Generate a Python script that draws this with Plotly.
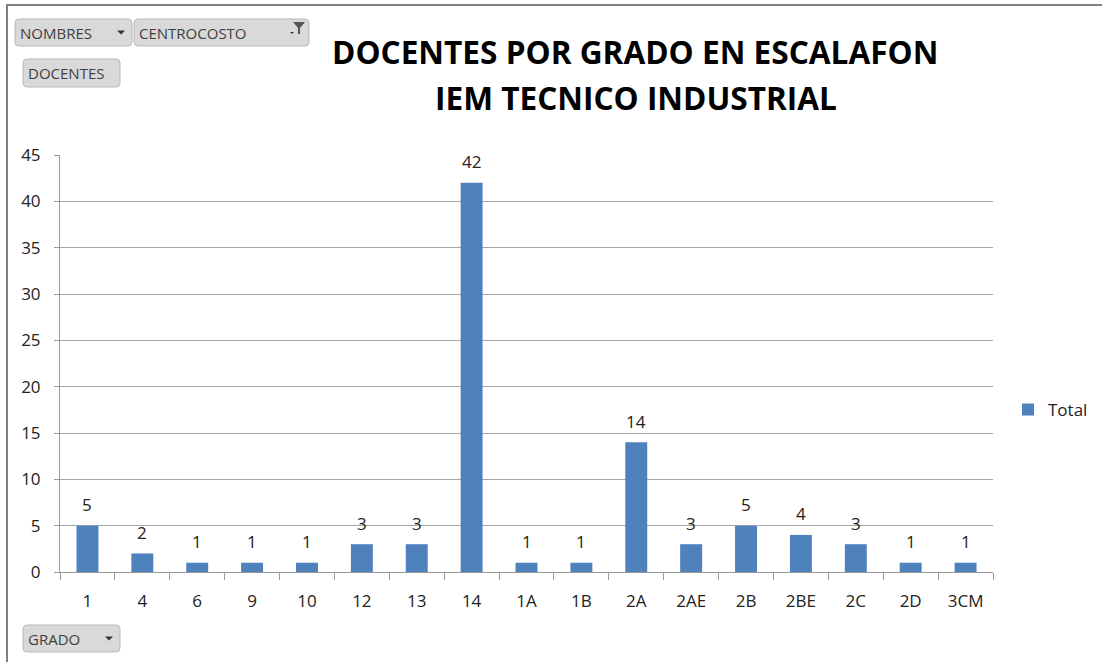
import plotly.graph_objects as go

categories = ["1", "4", "6", "9", "10", "12", "13", "14", "1A", "1B", "2A", "2AE", "2B", "2BE", "2C", "2D", "3CM"]
totals = [5, 2, 1, 1, 1, 3, 3, 42, 1, 1, 14, 3, 5, 4, 3, 1, 1]
y_ticks = [0, 5, 10, 15, 20, 25, 30, 35, 40, 45]

W, H = 1102, 662
L, R, T, B = 60, 993, 155, 572

def px(x):
    return (x - L) / (R - L)

def py(y):
    return (B - y) / (B - T)

FONT = "Open Sans"
TXT = "#222222"

fig = go.Figure()
fig.add_trace(go.Bar(
    x=categories, y=totals, name="Total",
    marker=dict(color="#4F81BD", line=dict(width=0)),
    width=0.4,
    cliponaxis=False,
))

shapes = []
annotations = []

# data labels placed through the axes (category index positions)
for i, v in enumerate(totals):
    annotations.append(dict(x=i, y=v, xref="x", yref="y", text=str(v), showarrow=False,
                            yanchor="middle", yshift=21,
                            font=dict(size=17, color=TXT, family=FONT)))

# title lines
annotations.append(dict(text="<b>DOCENTES POR GRADO EN ESCALAFON</b>", xref="paper", yref="paper",
                        x=px(635), y=py(52), xanchor="center", yanchor="middle", showarrow=False,
                        font=dict(size=31.6, color="black", family=FONT)))
annotations.append(dict(text="<b>IEM TECNICO INDUSTRIAL</b>", xref="paper", yref="paper",
                        x=px(636), y=py(97), xanchor="center", yanchor="middle", showarrow=False,
                        font=dict(size=31.6, color="black", family=FONT)))

# outer border (top and left edges only visible)
shapes.append(dict(type="line", xref="paper", yref="paper",
                   x0=px(7), x1=px(1102), y0=py(5), y1=py(5),
                   line=dict(color="#808080", width=2), layer="below"))
shapes.append(dict(type="line", xref="paper", yref="paper",
                   x0=px(7), x1=px(7), y0=py(4), y1=py(662),
                   line=dict(color="#808080", width=2), layer="below"))

def button(x0, y0, x1, y1, label, arrow=None):
    r = 4
    path = (f"M {px(x0+r)},{py(y0)} L {px(x1-r)},{py(y0)} Q {px(x1)},{py(y0)} {px(x1)},{py(y0+r)} "
            f"L {px(x1)},{py(y1-r)} Q {px(x1)},{py(y1)} {px(x1-r)},{py(y1)} "
            f"L {px(x0+r)},{py(y1)} Q {px(x0)},{py(y1)} {px(x0)},{py(y1-r)} "
            f"L {px(x0)},{py(y0+r)} Q {px(x0)},{py(y0)} {px(x0+r)},{py(y0)} Z")
    shapes.append(dict(type="path", xref="paper", yref="paper", path=path,
                       fillcolor="#D9D9D9", line=dict(color="#B8B8B8", width=1)))
    annotations.append(dict(text=label, xref="paper", yref="paper",
                            x=px(x0 + 3), y=py((y0 + y1) / 2), xanchor="left", yanchor="middle",
                            showarrow=False, font=dict(size=15, color="#404040", family=FONT)))
    if arrow == "down":
        ax = x1 - 11
        ay = (y0 + y1) / 2
        shapes.append(dict(type="path", xref="paper", yref="paper",
                           path=f"M {px(ax-4)},{py(ay-2)} L {px(ax+4)},{py(ay-2)} L {px(ax)},{py(ay+2)} Z",
                           fillcolor="#333333", line=dict(width=0)))
    elif arrow == "filter":
        ax = x1 - 10
        shapes.append(dict(type="path", xref="paper", yref="paper",
                           path=(f"M {px(ax-6)},{py(y0+3)} L {px(ax+6)},{py(y0+3)} L {px(ax+1)},{py(y0+9)} "
                                 f"L {px(ax+1)},{py(y0+15)} L {px(ax-1)},{py(y0+15)} L {px(ax-1)},{py(y0+9)} Z"),
                           fillcolor="#555555", line=dict(width=0)))
        shapes.append(dict(type="path", xref="paper", yref="paper",
                           path=f"M {px(ax-9)},{py(y0+13)} L {px(ax-5)},{py(y0+13)} L {px(ax-7)},{py(y0+15)} Z",
                           fillcolor="#333333", line=dict(width=0)))

button(15, 19, 132, 46, "NOMBRES", "down")
button(134, 19, 309, 46, "CENTROCOSTO", "filter")
button(23, 59, 120, 87, "DOCENTES")
button(23, 625, 120, 652, "GRADO", "down")

fig.update_layout(
    width=W, height=H,
    margin=dict(l=L, r=W - R, t=T, b=H - B, pad=0, autoexpand=False),
    paper_bgcolor="white", plot_bgcolor="white",
    font=dict(family=FONT, color=TXT),
    showlegend=True,
    legend=dict(x=px(1008), y=py(410), xanchor="left", yanchor="middle",
                font=dict(size=17, color=TXT, family=FONT),
                itemwidth=30, bgcolor="rgba(0,0,0,0)"),
    xaxis=dict(type="category", showgrid=False, showline=True, linecolor="#9A9A9A", linewidth=1,
               ticks="outside", tickson="boundaries", ticklen=7, tickcolor="#9A9A9A",
               ticklabelstandoff=14,
               tickfont=dict(size=17, color=TXT, family=FONT), fixedrange=True),
    yaxis=dict(range=[0, 45], tickvals=y_ticks, showgrid=True, gridcolor="#A6A6A6", gridwidth=1,
               showline=True, linecolor="#9A9A9A", ticks="outside", ticklen=5, tickcolor="#9A9A9A",
               ticklabelstandoff=10,
               tickfont=dict(size=17, color=TXT, family=FONT), zeroline=False, fixedrange=True),
    shapes=shapes,
    annotations=annotations,
)

fig.write_html("out.html", config={"displayModeBar": False},
               post_script="document.body.style.margin='0';document.body.style.overflow='hidden';")
